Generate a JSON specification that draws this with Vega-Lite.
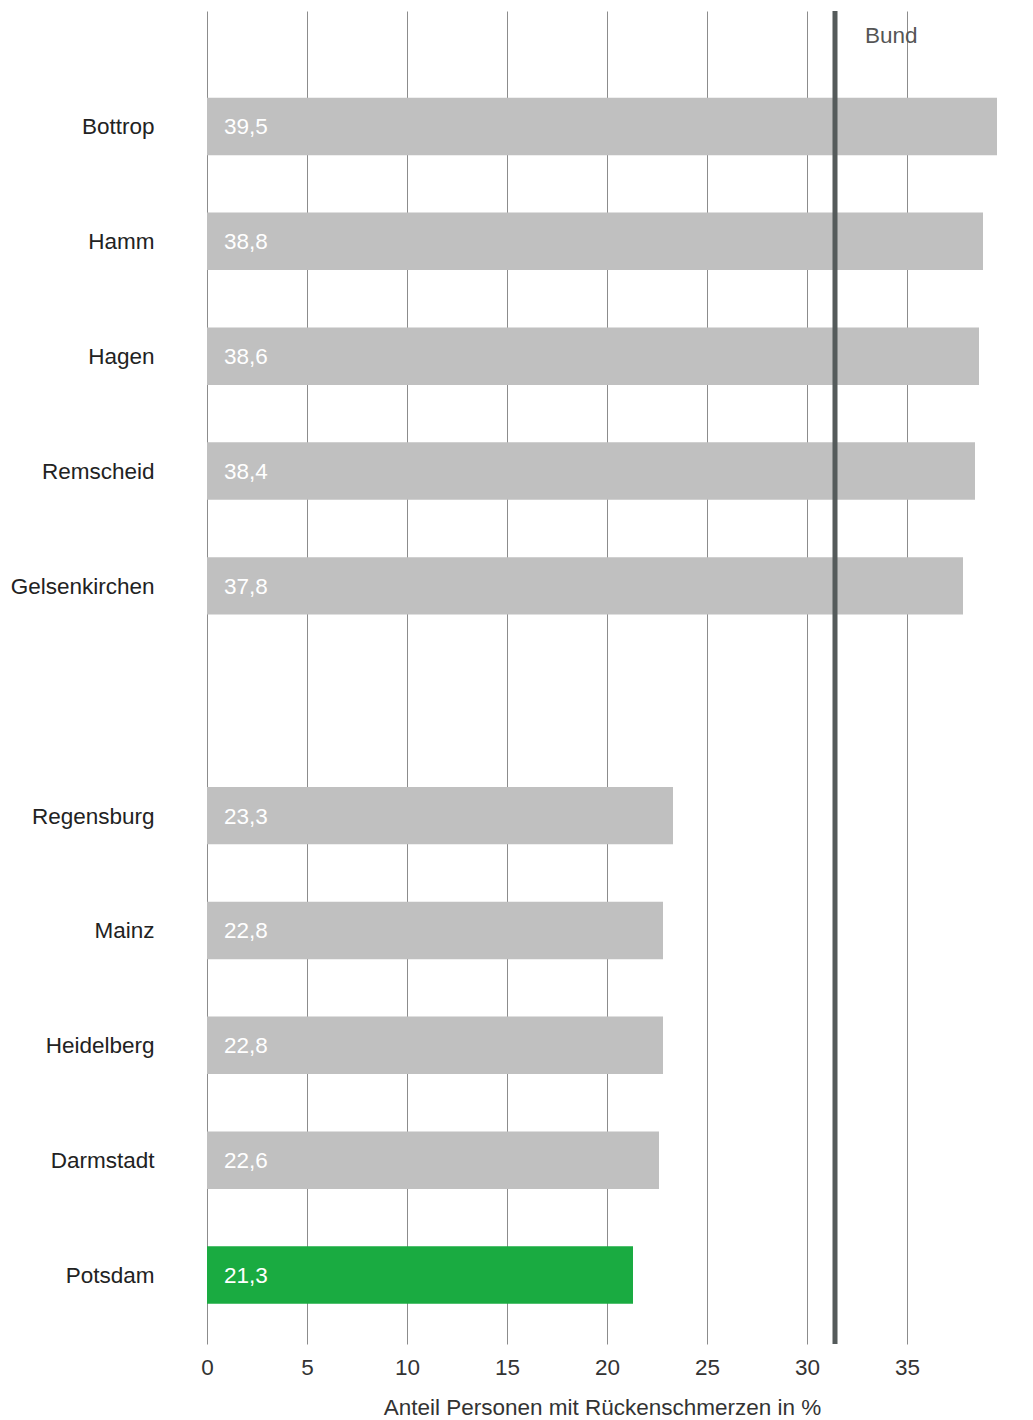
{
  "$schema": "https://vega.github.io/schema/vega-lite/v6.json",
  "autosize": {"type": "none"},
  "padding": {"left": 207, "top": 11, "right": 36, "bottom": 76},
  "width": 790,
  "height": 1333,
  "background": "white",
  "config": {
    "font": "Liberation Sans",
    "view": {"stroke": null},
    "locale": {"number": {"decimal": ",", "thousands": ".", "grouping": [3], "currency": ["", " €"]}}
  },
  "datasets": {
    "cities": [
      {"stadt": "Bottrop", "wert": 39.5, "gruppe": "andere"},
      {"stadt": "Hamm", "wert": 38.8, "gruppe": "andere"},
      {"stadt": "Hagen", "wert": 38.6, "gruppe": "andere"},
      {"stadt": "Remscheid", "wert": 38.4, "gruppe": "andere"},
      {"stadt": "Gelsenkirchen", "wert": 37.8, "gruppe": "andere"},
      {"stadt": "Regensburg", "wert": 23.3, "gruppe": "andere"},
      {"stadt": "Mainz", "wert": 22.8, "gruppe": "andere"},
      {"stadt": "Heidelberg", "wert": 22.8, "gruppe": "andere"},
      {"stadt": "Darmstadt", "wert": 22.6, "gruppe": "andere"},
      {"stadt": "Potsdam", "wert": 21.3, "gruppe": "Potsdam"}
    ],
    "bund": [{"name": "Bund", "wert": 31.4}]
  },
  "layer": [
    {
      "data": {"name": "cities"},
      "mark": {"type": "bar"},
      "encoding": {
        "y": {
          "field": "stadt",
          "type": "nominal",
          "scale": {
            "domain": ["Bottrop", "Hamm", "Hagen", "Remscheid", "Gelsenkirchen", " ", "Regensburg", "Mainz", "Heidelberg", "Darmstadt", "Potsdam"],
            "paddingInner": 0.5,
            "paddingOuter": 0.553,
            "align": 0.683
          },
          "axis": {
            "title": null,
            "domain": false,
            "ticks": false,
            "tickSize": 0,
            "grid": false,
            "labelPadding": 53,
            "labelFontSize": 22.5,
            "labelColor": "#222222",
            "labelFont": "Liberation Sans",
            "labelOffset": 1
          }
        },
        "x": {
          "field": "wert",
          "type": "quantitative",
          "scale": {"domain": [0, 39.5], "nice": false, "zero": true},
          "axis": {
            "title": "Anteil Personen mit Rückenschmerzen in %",
            "values": [0, 5, 10, 15, 20, 25, 30, 35],
            "format": "d",
            "domain": false,
            "ticks": false,
            "tickSize": 0,
            "grid": true,
            "gridColor": "#8c8c8c",
            "gridWidth": 1,
            "gridOpacity": 1,
            "labelFlush": false,
            "labelPadding": 12,
            "labelFontSize": 22.5,
            "labelColor": "#333333",
            "labelFont": "Liberation Sans",
            "titleFontSize": 22.5,
            "titleFontWeight": "normal",
            "titleColor": "#333333",
            "titleFont": "Liberation Sans",
            "titlePadding": 18
          }
        },
        "color": {
          "field": "gruppe",
          "type": "nominal",
          "scale": {"domain": ["andere", "Potsdam"], "range": ["#c0c0c0", "#1aab41"]},
          "legend": null
        }
      }
    },
    {
      "data": {"name": "cities"},
      "mark": {"type": "text", "align": "left", "baseline": "middle", "dx": 17, "dy": 1, "fontSize": 22.5, "color": "#ffffff", "font": "Liberation Sans"},
      "encoding": {
        "y": {"field": "stadt", "type": "nominal"},
        "x": {"datum": 0, "type": "quantitative"},
        "text": {"field": "wert", "type": "quantitative", "format": ".1f"}
      }
    },
    {
      "data": {"name": "bund"},
      "mark": {"type": "rule", "color": "#555b5b", "strokeWidth": 5},
      "encoding": {
        "x": {"field": "wert", "type": "quantitative"}
      }
    },
    {
      "data": {"name": "bund"},
      "mark": {"type": "text", "align": "left", "baseline": "alphabetic", "dx": 30, "dy": 32, "fontSize": 22.5, "color": "#555555", "font": "Liberation Sans"},
      "encoding": {
        "x": {"field": "wert", "type": "quantitative"},
        "y": {"value": 0},
        "text": {"field": "name", "type": "nominal"}
      }
    }
  ]
}
